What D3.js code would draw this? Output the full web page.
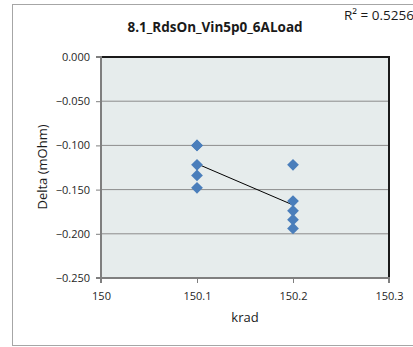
<!DOCTYPE html>
<html>
<head>
<meta charset="utf-8">
<script src="https://cdn.jsdelivr.net/npm/d3@7"></script>
<style>
  body { margin: 0; background: #fff; }
  text { font-family: "Open Sans", "Liberation Sans", sans-serif; }
</style>
</head>
<body>
<svg id="chart" width="413" height="347"></svg>
<script>
// data
var kradValues = [150.1, 150.1, 150.1, 150.1, 150.1,
                  150.2, 150.2, 150.2, 150.2, 150.2];
var deltaValues = [-0.100, -0.100, -0.122, -0.134, -0.148,
                   -0.122, -0.163, -0.174, -0.184, -0.194];
var xTicks = [150, 150.1, 150.2, 150.3];
var yTicks = [0, -0.05, -0.1, -0.15, -0.2, -0.25];
var titleText = "8.1_RdsOn_Vin5p0_6ALoad";
var r2Text = "R² = 0.5256";

var points = kradValues.map(function (k, i) {
    return { x: k, y: deltaValues[i] };
});

var svg = d3.select("#chart");

// layout (plot area edges)
var plotL = 101, plotR = 389, plotT = 57, plotB = 278;

// outer chart frame
svg.append("rect")
    .attr("x", 12.5).attr("y", 4.5)
    .attr("width", 420).attr("height", 341)
    .attr("fill", "#fff")
    .attr("stroke", "#a6a6a6")
    .attr("stroke-width", 1);

var xScale = d3.scaleLinear().domain([150, 150.3]).range([plotL, plotR]);
var yScale = d3.scaleLinear().domain([-0.25, 0]).range([plotB, plotT]);

// plot area
svg.append("rect")
    .attr("x", plotL).attr("y", plotT)
    .attr("width", plotR - plotL).attr("height", plotB - plotT)
    .attr("fill", "#e6ecec");

// gridlines
svg.selectAll(".grid")
    .data(yTicks.filter(function (d) { return d !== 0 && d !== -0.25; }))
    .enter().append("line")
    .attr("class", "grid")
    .attr("x1", plotL).attr("x2", plotR)
    .attr("y1", function (d) { return yScale(d); })
    .attr("y2", function (d) { return yScale(d); })
    .attr("stroke", "#8c8c8c")
    .attr("stroke-width", 1);

// top and right border
svg.append("path")
    .attr("d", "M" + plotL + "," + plotT + "H" + plotR + "V" + plotB)
    .attr("fill", "none")
    .attr("stroke", "#1a1a1a")
    .attr("stroke-width", 2);

// axes
var yAxis = svg.append("g")
    .attr("transform", "translate(" + plotL + ",0)")
    .call(d3.axisLeft(yScale).tickValues(yTicks).tickFormat(d3.format(".3f")).tickSize(5).tickPadding(6));

var xAxis = svg.append("g")
    .attr("transform", "translate(0," + plotB + ")")
    .call(d3.axisBottom(xScale).tickValues(xTicks).tickFormat(function (d) { return String(+d.toFixed(1)); }).tickSize(5).tickPadding(9));

[xAxis, yAxis].forEach(function (g) {
    g.select(".domain").attr("stroke", "#7f7f7f").attr("stroke-width", 2);
    g.selectAll(".tick line").attr("stroke", "#7f7f7f").attr("stroke-width", 1);
    g.selectAll(".tick text")
        .attr("fill", "#1f1f1f")
        .style("font-size", "11px")
        .style("font-family", "'Open Sans', 'Liberation Sans', sans-serif");
});
xAxis.select(".domain").attr("d", "M" + plotL + ",5V0H" + plotR + "V5");
yAxis.select(".domain").attr("d", "M-5," + plotT + "H0V" + plotB + "H-5");

// linear trend line fitted from the data
var mx = d3.mean(points, function (d) { return d.x; });
var my = d3.mean(points, function (d) { return d.y; });
var sxy = d3.sum(points, function (d) { return (d.x - mx) * (d.y - my); });
var sxx = d3.sum(points, function (d) { return (d.x - mx) * (d.x - mx); });
var slope = sxy / sxx;
var intercept = my - slope * mx;
var xExt = d3.extent(kradValues);

var trend = d3.line()
    .x(function (d) { return xScale(d); })
    .y(function (d) { return yScale(intercept + slope * d); });

svg.append("path")
    .datum(xExt)
    .attr("d", trend)
    .attr("fill", "none")
    .attr("stroke", "#000")
    .attr("stroke-width", 1);

// diamond markers
var diamond = d3.symbol().type(d3.symbolDiamond2).size(88);
svg.selectAll(".pt")
    .data(points)
    .enter().append("path")
    .attr("class", "pt")
    .attr("d", diamond)
    .attr("transform", function (d) {
        return "translate(" + xScale(d.x) + "," + yScale(d.y) + ")";
    })
    .attr("fill", "#4a7ebb");

// title
svg.append("text")
    .attr("x", 215).attr("y", 32)
    .attr("text-anchor", "middle")
    .style("font-size", "13.5px")
    .style("font-weight", "bold")
    .attr("fill", "#1a1a1a")
    .text(titleText);

// R squared label
svg.append("text")
    .attr("x", 344).attr("y", 20)
    .style("font-size", "13.5px")
    .attr("fill", "#1a1a1a")
    .text(r2Text);

// axis titles
svg.append("text")
    .attr("x", 245).attr("y", 322)
    .attr("text-anchor", "middle")
    .style("font-size", "13px")
    .attr("fill", "#1a1a1a")
    .text("krad");

svg.append("text")
    .attr("transform", "translate(47,167) rotate(-90)")
    .attr("text-anchor", "middle")
    .style("font-size", "13px")
    .attr("fill", "#1a1a1a")
    .text("Delta (mOhm)");
</script>
</body>
</html>
